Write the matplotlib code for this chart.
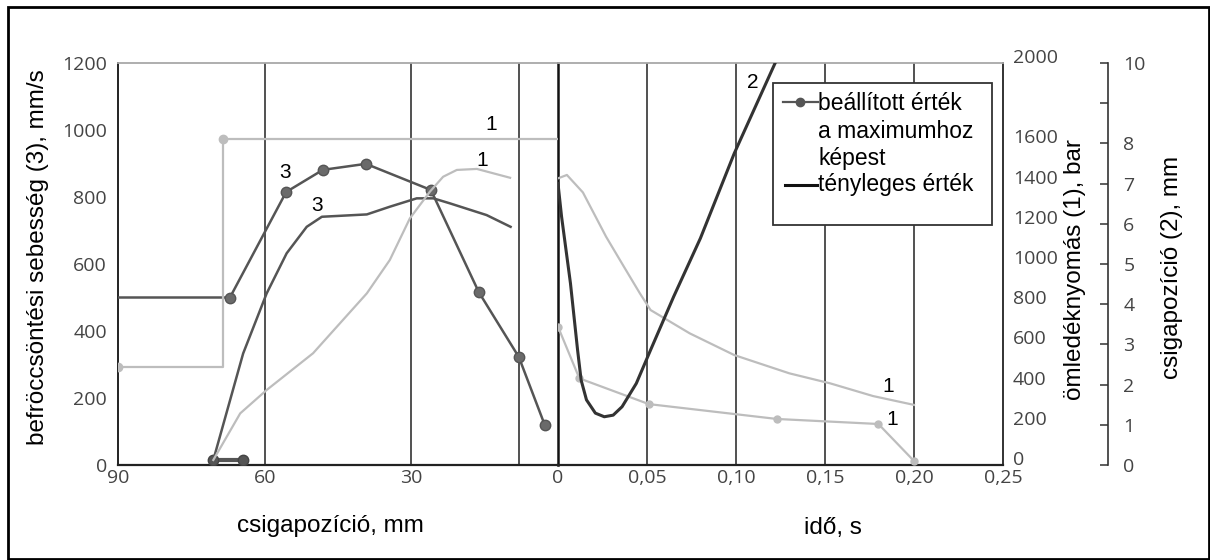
import matplotlib
matplotlib.use('Agg')
import matplotlib.pyplot as plt
from matplotlib.patches import Rectangle
from matplotlib.lines import Line2D

plt.rcParams['font.family'] = ['Liberation Sans', 'DejaVu Sans']

# ---------------- data ----------------
# left panel: screw position (mm), right panel: time (s)
speed_set_mm = [90, 67.1, 55.6, 48.1, 39.3, 26.0, 16.2, 8.0, 2.7]
speed_set_v = [500, 500, 815, 881, 899, 821, 516, 322, 119]
speed_start_mm = [70.6, 64.4]
speed_start_v = [15, 15]
speed_act_mm = [70.5, 64.4, 59.6, 55.5, 51.4, 48.3, 39.1, 34.4, 28.9, 25.5, 22.1, 14.6, 9.7]
speed_act_v = [15, 333, 512, 632, 711, 741, 748, 771, 796, 796, 781, 746, 711]

press_set_mm = [90, 68.5, 68.5, 0]
press_set_p = [490, 490, 1620, 1620]
press_act_mm = [70.5, 65.0, 59.6, 50.1, 44.6, 39.1, 34.4, 30.3, 26.2, 23.5, 20.7, 16.6, 9.8]
press_act_p = [25, 257, 373, 556, 705, 854, 1020, 1227, 1360, 1434, 1468, 1473, 1429]

press_act_t = [0, 0.005, 0.014, 0.027, 0.037, 0.046, 0.052, 0.074, 0.099, 0.130, 0.153, 0.177, 0.200]
press_act_tp = [1426, 1443, 1356, 1136, 987, 854, 771, 655, 547, 456, 406, 343, 299]
press_set_t = [0, 0.012, 0.051, 0.123, 0.180, 0.200]
press_set_tp = [688, 431, 303, 229, 204, 20]

pos_t = [0, 0.002, 0.007, 0.011, 0.013, 0.016, 0.021, 0.026, 0.031, 0.036, 0.044,
         0.052, 0.065, 0.080, 0.099, 0.122]
pos_s = [7.0, 6.18, 4.52, 2.86, 2.11, 1.62, 1.29, 1.20, 1.24, 1.45, 2.03,
         2.86, 4.19, 5.64, 7.75, 10.0]

mm_ticks = [90, 60, 30]
mm_labels = ['90', '60', '30']
t_ticks = [0, 0.05, 0.10, 0.15, 0.20, 0.25]
t_labels = ['0', '0,05', '0,10', '0,15', '0,20', '0,25']
speed_ticks = [0, 200, 400, 600, 800, 1000, 1200]
press_ticks = [0, 200, 400, 600, 800, 1000, 1200, 1400, 1600, 2000]
pos_ticks = [0, 1, 2, 3, 4, 5, 6, 7, 8, 9, 10]
pos_labels = ['0', '1', '2', '3', '4', '5', '6', '7', '8', '', '10']

mm_vlines = [60, 30, 8]
t_vlines = [0.05, 0.10, 0.15, 0.20]

# ---------------- layout ----------------
W, H = 1210, 560
fig = plt.figure(figsize=(W / 100, H / 100), dpi=100)


def fx(px):
    return px / W


def fy(py):
    return 1 - py / H


L, R0, R1, TOP, BOT = 118, 558, 1003, 63, 465
ax1 = fig.add_axes([fx(L), fy(BOT), (R0 - L) / W, (BOT - TOP) / H])
ax2 = fig.add_axes([fx(R0), fy(BOT), (R1 - R0) / W, (BOT - TOP) / H])
for a in (ax1, ax2):
    a.set_facecolor('none')
    a.set_ylim(0, 1200)
ax1.set_xlim(90, 0)
ax2.set_xlim(0, 0.25)

tw0 = ax1.twinx()
tw1 = ax2.twinx()
tw2 = ax2.twinx()
for a in (tw0, tw1):
    a.set_ylim(0, 2000)
tw2.set_ylim(0, 10)

DARK = '#555555'
LIGHT = '#bdbdbd'
TICKFONT = dict(fontfamily='Open Sans', fontsize=14, color='#444444')

# vertical lines
for v in mm_vlines:
    ax1.axvline(v, color='#222222', lw=1.1, zorder=1)
for v in t_vlines:
    ax2.axvline(v, color='#222222', lw=1.1, zorder=1)

# left panel curves
tw0.plot(press_set_mm, press_set_p, color=LIGHT, lw=1.6, marker='o', ms=6,
         markevery=[0, 2], zorder=2)
tw0.plot(press_act_mm, press_act_p, color=LIGHT, lw=1.6, zorder=2)
ax1.plot(speed_set_mm, speed_set_v, color=DARK, lw=1.8, marker='o', ms=7.5,
         mfc='#6a6a6a', mec='#555555', markevery=list(range(1, len(speed_set_mm))), zorder=3)
ax1.plot(speed_start_mm, speed_start_v, color=DARK, lw=3, marker='o', ms=7.5,
         mfc='#555555', mec='#444444', zorder=3)
ax1.plot(speed_act_mm, speed_act_v, color=DARK, lw=1.8, zorder=3)

# right panel curves
tw1.plot(press_act_t, press_act_tp, color=LIGHT, lw=1.6, zorder=2)
tw1.plot(press_set_t, press_set_tp, color=LIGHT, lw=1.6, marker='o', ms=5, zorder=2)
tw2.plot(pos_t, pos_s, color='#333333', lw=2.2, zorder=3, clip_on=True)

# curve labels
lab = dict(fontsize=15, color='black', ha='center', va='center')
ax1.text(55.8, 872, '3', **lab)
ax1.text(49.3, 776, '3', **lab)
ax1.text(13.7, 1015, '1', **lab)
ax1.text(15.5, 910, '1', **lab)
ax2.text(0.1854, 233, '1', **lab)
ax2.text(0.188, 137, '1', **lab)
ax2.text(0.1096, 1143, '2', **lab)

# spines
for a in (ax1, ax2):
    a.spines['bottom'].set_color('#222222')
    a.spines['bottom'].set_linewidth(1.6)
    a.spines['top'].set_color('#a8a8a8')
    a.spines['top'].set_linewidth(1.3)
    a.spines['top'].set_linestyle((0, (3, 1)))
ax1.spines['right'].set_visible(False)
ax1.spines['left'].set_color('#222222')
ax1.spines['left'].set_linewidth(1.4)
ax2.spines['left'].set_color('#111111')
ax2.spines['left'].set_linewidth(1.8)
ax2.spines['right'].set_color('#222222')
ax2.spines['right'].set_linewidth(1.3)
for a in (tw0, tw1, tw2):
    for s in ('top', 'bottom', 'left'):
        a.spines[s].set_visible(False)
tw0.spines['right'].set_visible(False)
tw1.spines['right'].set_visible(False)
tw2.spines['right'].set_position(('axes', (1108 - R0) / (R1 - R0)))
tw2.spines['right'].set_color('#333333')
tw2.spines['right'].set_linewidth(1.2)

# ticks
ax1.set_xticks(mm_ticks, labels=mm_labels, **TICKFONT)
ax1.set_yticks(speed_ticks, labels=[str(v) for v in speed_ticks], **TICKFONT)
ax1.tick_params(axis='both', length=0)
ax1.tick_params(axis='y', pad=8)
ax1.tick_params(axis='x', pad=3)
ax2.set_xticks(t_ticks, labels=t_labels, **TICKFONT)
ax2.set_yticks([])
ax2.tick_params(axis='x', length=0, pad=3)
tw0.set_yticks([])
tw1.set_yticks(press_ticks, labels=[str(v) for v in press_ticks], va='baseline', **TICKFONT)
tw1.tick_params(axis='y', length=0, pad=7)
tw2.set_yticks(pos_ticks, labels=pos_labels, **TICKFONT)
tw2.tick_params(axis='y', direction='in', length=6, width=1.1, color='#333333', pad=11)

# axis titles
fig.text(fx(38), fy(257), 'befröccsöntési sebesség (3), mm/s', rotation=90,
         fontsize=17.5, ha='center', va='center')
fig.text(fx(1075), fy(270), 'ömledéknyomás (1), bar', rotation=90,
         fontsize=17.5, ha='center', va='center')
fig.text(fx(1172), fy(267), 'csigapozíció (2), mm', rotation=90,
         fontsize=17.5, ha='center', va='center')
fig.text(fx(330), fy(526), 'csigapozíció, mm', fontsize=17.5, ha='center', va='center')
fig.text(fx(833), fy(528), 'idő, s', fontsize=17.5, ha='center', va='center')

# legend box (drawn manually)
fig.add_artist(Rectangle((fx(773), fy(225)), (992 - 773) / W, (225 - 83) / H,
                         transform=fig.transFigure, facecolor='white',
                         edgecolor='#333333', lw=1.3, zorder=10))
fig.add_artist(Line2D([fx(783), fx(818)], [fy(102), fy(102)], color=DARK, lw=1.6,
                      transform=fig.transFigure, zorder=11))
fig.add_artist(Line2D([fx(800)], [fy(102)], color=DARK, marker='o', ms=6,
                      transform=fig.transFigure, zorder=11))
fig.add_artist(Line2D([fx(785), fx(817)], [fy(185), fy(185)], color='#111111', lw=2.2,
                      transform=fig.transFigure, zorder=11))
for txt, yy in [('beállított érték', 103), ('a maximumhoz', 131),
                ('képest', 158), ('tényleges érték', 185)]:
    t = fig.text(fx(818), fy(yy), txt, fontsize=16.5, ha='left', va='center')
    t.set_zorder(12)

# outer frame
fig.add_artist(Rectangle((fx(8), fy(559)), (1208.5 - 8) / W, (559 - 7) / H,
                         transform=fig.transFigure, fill=False,
                         edgecolor='black', lw=2, zorder=20))

fig.savefig('out.png', dpi=100, facecolor='white')
